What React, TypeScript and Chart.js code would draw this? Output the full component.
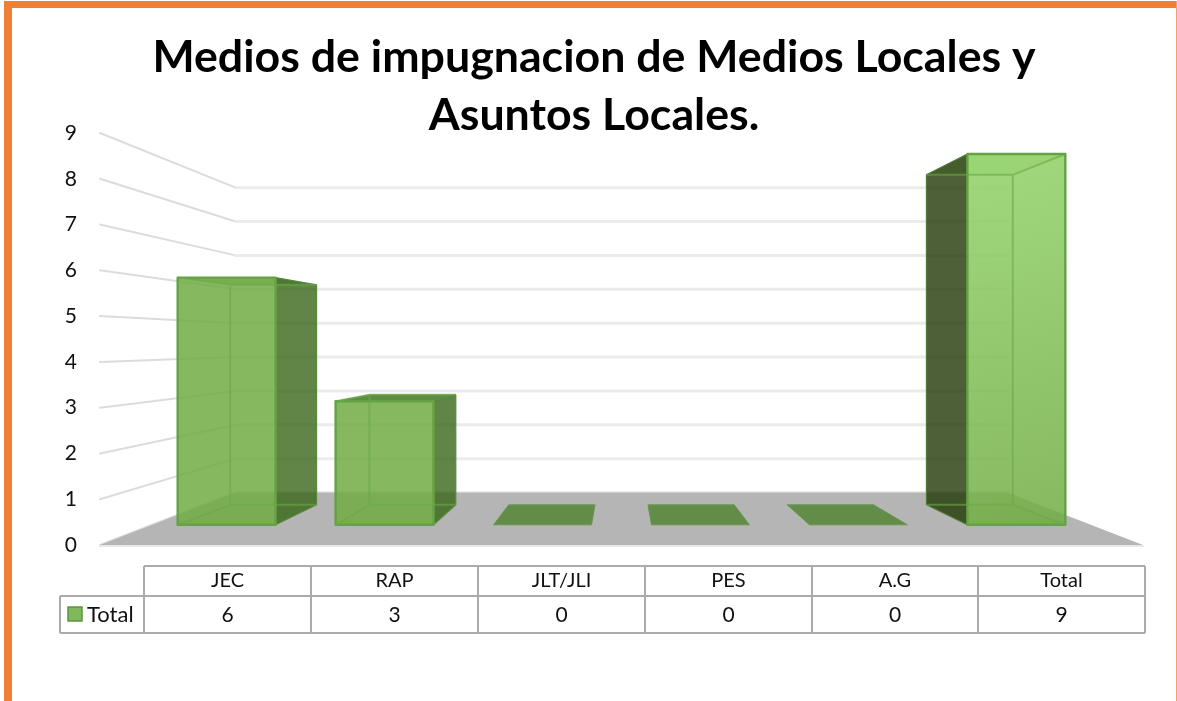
import React, { useEffect, useRef } from "react";
import { Chart, registerables } from "chart.js";

Chart.register(...registerables);

const categories = ["JEC", "RAP", "JLT/JLI", "PES", "A.G", "Total"];
const seriesLabel = "Total";
const values = [6, 3, 0, 0, 0, 9];
const yTicks = [0, 1, 2, 3, 4, 5, 6, 7, 8, 9];
const titleLines = ["Medios de impugnacion de Medios Locales y", "Asuntos Locales."];

const FONT = "Lato";
const S_WALL = 0.74;
const S_FRONT = 0.9;
const S_FRONT_X = 0.9086;
const S_BACK = 0.801;
const VY_FRAC = 0.51;
const TABLE_X = [144, 311, 478, 645, 812, 978, 1145];
const TABLE_Y = [566, 596, 633];
const TABLE_LEFT = 60;

type Pt = [number, number];

function poly(ctx: CanvasRenderingContext2D, pts: Pt[], fill?: string | CanvasGradient, stroke?: string, lw = 1.5) {
  ctx.beginPath();
  pts.forEach((p, i) => (i ? ctx.lineTo(p[0], p[1]) : ctx.moveTo(p[0], p[1])));
  ctx.closePath();
  if (fill) {
    ctx.fillStyle = fill;
    ctx.fill();
  }
  if (stroke) {
    ctx.strokeStyle = stroke;
    ctx.lineWidth = lw;
    ctx.stroke();
  }
}

function projector(chart: any) {
  const a = chart.chartArea;
  const vx = (a.left + a.right) / 2;
  const vy = a.top + (a.bottom - a.top) * VY_FRAC;
  return (x: number, y: number, s: number, sx: number = s): Pt => [vx + (x - vx) * sx, vy + (y - vy) * s];
}

const perspectivePlugin = {
  id: "perspective",
  beforeDatasetsDraw(chart: any) {
    const { ctx, chartArea: a, scales } = chart;
    const p = projector(chart);
    const y = scales.y;
    ctx.save();
    ctx.lineCap = "round";
    for (const v of yTicks) {
      const py = y.getPixelForValue(v);
      const f = p(a.left, py, 1);
      const b = p(a.left, py, S_WALL);
      const e = p(a.right, py, S_WALL);
      ctx.strokeStyle = "#dcdcdc";
      ctx.lineWidth = 2;
      ctx.beginPath();
      ctx.moveTo(f[0], f[1]);
      ctx.lineTo(b[0], b[1]);
      ctx.stroke();
      ctx.strokeStyle = "#ebebeb";
      ctx.lineWidth = 3;
      ctx.beginPath();
      ctx.moveTo(b[0], b[1]);
      ctx.lineTo(e[0], e[1]);
      ctx.stroke();
    }
    const by = y.getPixelForValue(0);
    poly(ctx, [p(a.left, by, 1), p(a.left, by, S_WALL), p(a.right, by, S_WALL), p(a.right, by, 1)], "#b5b5b5");
    ctx.strokeStyle = "#dedede";
    ctx.lineWidth = 1.5;
    ctx.beginPath();
    ctx.moveTo(a.left, by + 1);
    ctx.lineTo(a.right, by + 1);
    ctx.stroke();
    ctx.restore();
  },
  afterDatasetsDraw(chart: any) {
    const { ctx, chartArea: a } = chart;
    const p = projector(chart);
    const vx = (a.left + a.right) / 2;
    const meta = chart.getDatasetMeta(0);
    ctx.save();
    ctx.lineJoin = "round";
    meta.data.forEach((el: any, i: number) => {
      const l = el.x - el.width / 2;
      const r = el.x + el.width / 2;
      const t = el.y;
      const b = el.base;
      const fBL = p(l, b, S_FRONT, S_FRONT_X), fBR = p(r, b, S_FRONT, S_FRONT_X);
      const fTL = p(l, t, S_FRONT, S_FRONT_X), fTR = p(r, t, S_FRONT, S_FRONT_X);
      const bBL = p(l, b, S_BACK), bBR = p(r, b, S_BACK), bTL = p(l, t, S_BACK), bTR = p(r, t, S_BACK);
      if (values[i] === 0) {
        poly(ctx, [fBL, bBL, bBR, fBR], "#628c48", "#6a9650", 1);
        return;
      }
      const onRight = el.x > vx;
      const edge = "#65a244";
      const inner = "rgba(105,170,70,0.6)";
      const topSeen = bTL[1] < fTL[1];
      poly(ctx, [bBL, bBR, fBR, fBL], "rgba(113,172,68,0.12)");
      poly(
        ctx,
        [bTL, bTR, fTR, fTL],
        onRight ? "rgba(150,215,110,0.4)" : topSeen ? "rgba(85,135,55,0.95)" : "rgba(75,130,45,0.5)",
        topSeen ? "#5f9a42" : undefined,
        1,
      );
      const side: Pt[] = onRight ? [fTL, bTL, bBL, fBL] : [fTR, bTR, bBR, fBR];
      poly(ctx, side, onRight ? "rgba(32,56,6,0.8)" : "rgba(56,102,25,0.8)", onRight ? "#4f7a38" : "#5a8a40", 1.2);
      let front: string | CanvasGradient = "rgba(113,172,68,0.85)";
      if (onRight) {
        const g = ctx.createLinearGradient(fTL[0], fTL[1], fBR[0], fBR[1]);
        g.addColorStop(0, "rgba(145,210,104,0.85)");
        g.addColorStop(1, "rgba(113,172,68,0.85)");
        front = g;
      }
      poly(ctx, [fTL, fTR, fBR, fBL], front, edge, 2.4);
      ctx.strokeStyle = inner;
      ctx.lineWidth = 2;
      ctx.beginPath();
      const nearV = onRight ? [bTR, bBR] : [bTL, bBL];
      ctx.moveTo(nearV[0][0], nearV[0][1]);
      ctx.lineTo(nearV[1][0], nearV[1][1]);
      ctx.moveTo(bTL[0], bTL[1]);
      ctx.lineTo(bTR[0], bTR[1]);
      ctx.moveTo(bBL[0], bBL[1]);
      ctx.lineTo(bBR[0], bBR[1]);
      if (onRight) {
        ctx.moveTo(fTR[0], fTR[1]);
        ctx.lineTo(bTR[0], bTR[1]);
        ctx.moveTo(fBR[0], fBR[1]);
        ctx.lineTo(bBR[0], bBR[1]);
      } else {
        ctx.moveTo(fTL[0], fTL[1]);
        ctx.lineTo(bTL[0], bTL[1]);
        ctx.moveTo(fBL[0], fBL[1]);
        ctx.lineTo(bBL[0], bBL[1]);
      }
      ctx.stroke();
    });
    ctx.restore();
  },
  afterDraw(chart: any) {
    const { ctx } = chart;
    ctx.save();
    ctx.strokeStyle = "#ababab";
    ctx.lineWidth = 2;
    ctx.beginPath();
    const [y0, y1, y2] = TABLE_Y;
    const x0 = TABLE_X[0];
    const xN = TABLE_X[TABLE_X.length - 1];
    ctx.moveTo(x0, y0);
    ctx.lineTo(xN, y0);
    ctx.moveTo(TABLE_LEFT, y1);
    ctx.lineTo(xN, y1);
    ctx.moveTo(TABLE_LEFT, y2);
    ctx.lineTo(xN, y2);
    ctx.moveTo(TABLE_LEFT, y1);
    ctx.lineTo(TABLE_LEFT, y2);
    TABLE_X.forEach((x) => {
      ctx.moveTo(x, y0);
      ctx.lineTo(x, y2);
    });
    ctx.stroke();
    ctx.fillStyle = "#111111";
    ctx.textAlign = "center";
    ctx.textBaseline = "middle";
    categories.forEach((c, i) => {
      const cx = (TABLE_X[i] + TABLE_X[i + 1]) / 2;
      ctx.font = `20px ${FONT}`;
      ctx.fillText(c, cx, (y0 + y1) / 2);
      ctx.font = `21px ${FONT}`;
      ctx.fillText(String(values[i]), cx, (y1 + y2) / 2 + 1);
    });
    ctx.fillStyle = "#7fb95c";
    ctx.strokeStyle = "#5c9440";
    ctx.lineWidth = 1.5;
    ctx.fillRect(68, 607, 14, 14);
    ctx.strokeRect(68, 607, 14, 14);
    ctx.fillStyle = "#111111";
    ctx.textAlign = "left";
    ctx.font = `22px ${FONT}`;
    ctx.fillText(seriesLabel, 87, (y1 + y2) / 2);
    ctx.restore();
  },
};

export default function App() {
  const ref = useRef<HTMLCanvasElement | null>(null);
  useEffect(() => {
    document.body.style.margin = "0";
    document.body.style.background = "#ffffff";
    const chart = new Chart(ref.current as HTMLCanvasElement, {
      type: "bar",
      data: {
        labels: categories,
        datasets: [
          {
            label: seriesLabel,
            data: values,
            backgroundColor: "rgba(0,0,0,0)",
            borderWidth: 0,
            barPercentage: 1,
            categoryPercentage: 0.62,
          },
        ],
      },
      options: {
        responsive: false,
        animation: false,
        layout: { padding: { top: 29, left: 45, right: 34, bottom: 156 } },
        plugins: {
          legend: { display: false },
          tooltip: { enabled: false },
          title: {
            display: true,
            text: titleLines,
            color: "#000000",
            font: { family: FONT, weight: "bold", size: 44.7, lineHeight: 58 / 44.7 },
            padding: { top: 0, bottom: -12 },
          },
        },
        scales: {
          x: {
            afterFit(scale: any) {
              scale.height = 0;
            },
            ticks: { display: false },
            grid: { display: false },
            border: { display: false },
          },
          y: {
            min: 0,
            max: 9,
            afterFit(scale: any) {
              scale.width = 55;
            },
            ticks: { stepSize: 1, padding: 23, color: "#111111", font: { family: FONT, size: 21 } },
            grid: { display: false, drawTicks: false },
            border: { display: false },
          },
        },
      } as any,
      plugins: [perspectivePlugin],
    });
    return () => chart.destroy();
  }, []);
  return (
    <div style={{ position: "relative", width: 1177, height: 701, overflow: "hidden" }}>
      <canvas ref={ref} width={1177} height={701} style={{ display: "block" }} />
      <div style={{ position: "absolute", left: 4, top: 1, width: 8, height: 700, background: "#ee8035" }} />
      <div style={{ position: "absolute", left: 4, top: 1, width: 1173, height: 7, background: "#ee8035" }} />
      <div style={{ position: "absolute", left: 1176, top: 1, width: 1, height: 700, background: "#f2a070" }} />
    </div>
  );
}
